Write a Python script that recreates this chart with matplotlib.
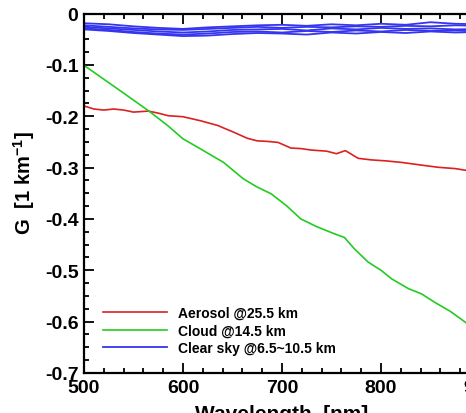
import matplotlib
matplotlib.use("Agg")
import matplotlib.pyplot as plt
from matplotlib.ticker import MultipleLocator

plt.rcParams['font.family'] = ['Liberation Sans', 'DejaVu Sans']
plt.rcParams['font.weight'] = 'bold'
plt.rcParams['mathtext.fontset'] = 'custom'
plt.rcParams['mathtext.rm'] = 'Liberation Sans:bold'
plt.rcParams['mathtext.bf'] = 'Liberation Sans:bold'
plt.rcParams['mathtext.default'] = 'bf'

# Aerosol @25.5 km
aer_wl = [500, 510, 520, 530, 540, 550, 565, 575, 585, 600, 618, 635, 651, 665, 675, 685,
          696, 709, 719, 730, 745, 755, 764, 777, 790, 805, 821, 840, 858, 875, 888, 900]
aer_g = [-0.180, -0.186, -0.188, -0.186, -0.188, -0.192, -0.190, -0.194, -0.199, -0.201,
         -0.209, -0.218, -0.231, -0.243, -0.248, -0.249, -0.251, -0.262, -0.263, -0.266,
         -0.268, -0.273, -0.267, -0.282, -0.285, -0.287, -0.290, -0.295, -0.2995, -0.302,
         -0.306, -0.309]

# Cloud @14.5 km
cld_wl = [500, 520, 540, 567, 585, 600, 618, 641, 661, 675, 689, 705, 719, 735, 753, 763,
          773, 787, 800, 811, 828, 841, 854, 870, 888, 900]
cld_g = [-0.101, -0.128, -0.155, -0.192, -0.219, -0.244, -0.264, -0.290, -0.322, -0.338,
         -0.351, -0.375, -0.400, -0.415, -0.429, -0.436, -0.458, -0.484, -0.500, -0.517,
         -0.536, -0.546, -0.562, -0.580, -0.605, -0.620]

# Clear sky @6.5~10.5 km (several altitudes)
clr_wl = [500, 525, 550, 575, 600, 625, 650, 675, 700, 725, 750, 775, 800, 825, 850, 875, 900]
clr_g1 = [-0.019, -0.021, -0.025, -0.028, -0.030, -0.027, -0.025, -0.023, -0.022, -0.024,
          -0.021, -0.023, -0.020, -0.022, -0.017, -0.020, -0.021]
clr_g2 = [-0.023, -0.026, -0.029, -0.031, -0.032, -0.030, -0.028, -0.026, -0.028, -0.026,
          -0.027, -0.025, -0.026, -0.024, -0.025, -0.023, -0.024]
clr_g3 = [-0.026, -0.029, -0.032, -0.035, -0.037, -0.035, -0.032, -0.031, -0.030, -0.033,
          -0.029, -0.031, -0.028, -0.030, -0.029, -0.031, -0.030]
clr_g4 = [-0.029, -0.032, -0.036, -0.039, -0.041, -0.039, -0.036, -0.035, -0.037, -0.034,
          -0.036, -0.033, -0.035, -0.032, -0.034, -0.033, -0.035]
clr_g5 = [-0.031, -0.034, -0.038, -0.041, -0.044, -0.043, -0.040, -0.038, -0.039, -0.041,
          -0.037, -0.039, -0.036, -0.038, -0.035, -0.037, -0.036]

labels = ['Aerosol @25.5 km', 'Cloud @14.5 km', 'Clear sky @6.5~10.5 km']
colors = ['#dd2020', '#22cc22', '#3535f0']

fig = plt.figure(figsize=(4.66, 4.14), dpi=100)
ax = fig.add_axes([84/466, 1-374/414, (480-84)/466, (374-14.5)/414])

ax.plot(aer_wl, aer_g, color=colors[0], lw=1.2, label=labels[0])
ax.plot(cld_wl, cld_g, color=colors[1], lw=1.2, label=labels[1])
for i, g in enumerate([clr_g1, clr_g2, clr_g3, clr_g4, clr_g5]):
    ax.plot(clr_wl, g, color=colors[2], lw=1.3, label=labels[2] if i == 0 else None)

ax.set_xlim(500, 900)
ax.set_ylim(-0.7, 0)
ax.xaxis.set_major_locator(MultipleLocator(100))
ax.xaxis.set_minor_locator(MultipleLocator(20))
ax.yaxis.set_major_locator(MultipleLocator(0.1))
ax.yaxis.set_minor_locator(MultipleLocator(0.025))
ax.yaxis.set_major_formatter(matplotlib.ticker.FuncFormatter(
    lambda v, p: '0' if abs(v) < 1e-9 else ('%.1f' % v)))

ax.tick_params(which='both', direction='in', top=True, right=True, width=1.3)
ax.tick_params(which='major', length=7, labelsize=14, pad=4)
ax.tick_params(which='minor', length=3.5)
for lab in ax.get_xticklabels() + ax.get_yticklabels():
    lab.set_fontweight('bold')
for s in ax.spines.values():
    s.set_linewidth(1.6)

ax.set_xlabel('Wavelength  [nm]', fontsize=15, fontweight='bold', labelpad=6)
ax.set_ylabel(r'G  [1 km$^{-1}$]', fontsize=14.5, fontweight='bold')
ax.yaxis.set_label_coords(-0.118, 0.53)

leg = ax.legend(loc='upper left', bbox_to_anchor=(103/466, 1-307/414),
                bbox_transform=fig.transFigure, frameon=False,
                handlelength=4.6, handletextpad=0.8, labelspacing=0.25,
                borderpad=0, borderaxespad=0, prop={'weight': 'bold', 'size': 10})

fig.savefig('out.png', dpi=100)
